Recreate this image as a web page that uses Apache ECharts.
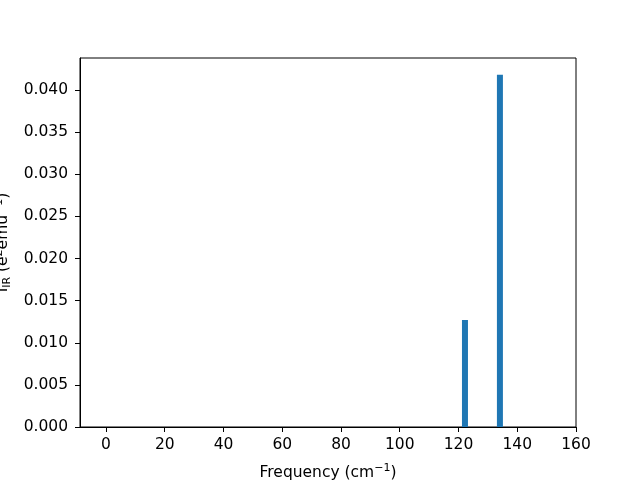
<!DOCTYPE html>
<html>
<head>
<meta charset="utf-8">
<script src="https://cdn.jsdelivr.net/npm/echarts@6/dist/echarts.min.js"></script>
<style>html,body{margin:0;padding:0;background:#fff}#c{width:640px;height:480px}</style>
</head>
<body>
<div id="c"></div>
<script>
const frequencies = [122.2, 134.1];
const intensities = [0.0127, 0.0418];
const xTicks = [0, 20, 40, 60, 80, 100, 120, 140, 160];
const yTicks = [0, 0.005, 0.010, 0.015, 0.020, 0.025, 0.030, 0.035, 0.040];

const chart = echarts.init(document.getElementById('c'), null, {renderer: 'canvas'});
const font = 'DejaVu Sans';
const fs = 15.5;
const rich = {
  m: {fontFamily: font, fontSize: fs, color: '#000'},
  s: {fontFamily: font, fontSize: 11, color: '#000', verticalAlign: 'bottom', padding: [8,0,0,0]},
  p: {fontFamily: font, fontSize: 11, color: '#000', verticalAlign: 'top', padding: [0,0,8,0]}
};
chart.setOption({
  animation: false,
  backgroundColor: '#fff',
  grid: {left: 80, right: 64, top: 58, bottom: 53, containLabel: false, outerBoundsMode: 'none',
    show: true, borderColor: '#000', borderWidth: 1, backgroundColor: 'transparent'},
  xAxis: {
    type: 'value', min: -8.85, max: 160,
    axisLine: {show: true, onZero: false, lineStyle: {color: '#000', width: 1}},
    axisTick: {show: true, length: 5, lineStyle: {color: '#000'}, customValues: xTicks},
    axisLabel: {color: '#000', fontFamily: font, fontSize: fs, margin: 10, customValues: xTicks},
    splitLine: {show: false},
    name: '{m|Frequency (cm}{p|−1}{m|)}', nameLocation: 'middle', nameGap: 36,
    nameTextStyle: {color: '#000', fontFamily: font, fontSize: fs, rich: rich}
  },
  yAxis: {
    type: 'value', min: 0, max: 0.0438, interval: 0.005,
    axisLine: {show: true, onZero: false, lineStyle: {color: '#000', width: 1}},
    axisTick: {show: true, length: 5, lineStyle: {color: '#000'}, customValues: yTicks},
    axisLabel: {color: '#000', fontFamily: font, fontSize: fs, margin: 12,
      customValues: yTicks, formatter: v => v.toFixed(3)},
    splitLine: {show: false},
    name: '{m|I}{s|IR}{m| (e}{p|2}{m|emu}{p|−1}{m|)}', nameLocation: 'middle', nameGap: 66, nameRotate: 90,
    nameTextStyle: {color: '#000', fontFamily: font, fontSize: fs, rich: rich}
  },
  series: [{
    type: 'bar', barWidth: 6,
    data: frequencies.map((f, i) => [f, intensities[i]]),
    itemStyle: {color: '#1f77b4'}
  }]
});
</script>
</body>
</html>
